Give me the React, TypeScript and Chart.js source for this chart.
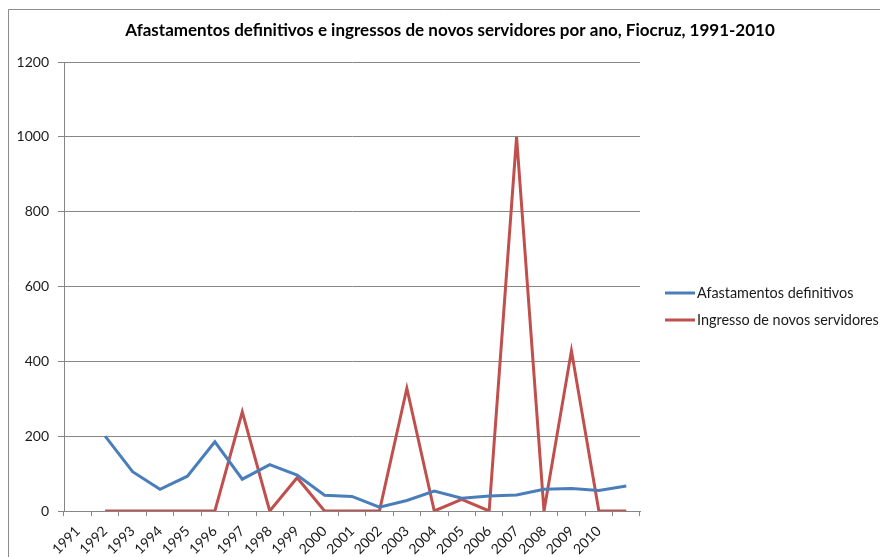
import React, { useEffect, useRef } from "react";
import { Chart, registerables } from "chart.js";

Chart.register(...registerables);

const TITLE = "Afastamentos definitivos e ingressos de novos servidores por ano, Fiocruz, 1991-2010";
const years = ["1991", "1992", "1993", "1994", "1995", "1996", "1997", "1998", "1999", "2000", "2001", "2002", "2003", "2004", "2005", "2006", "2007", "2008", "2009", "2010", ""];
const afastamentos = [null, 200, 105, 58, 93, 185, 85, 124, 96, 42, 39, 10, 28, 53, 34, 40, 43, 58, 60, 55, 67];
const ingressos = [null, 0, 0, 0, 0, 0, 265, 0, 89, 0, 0, 0, 328, 0, 31, 0, 1000, 0, 428, 0, 0];
const seriesNames = ["Afastamentos definitivos", "Ingresso de novos servidores"];
const seriesColors = ["#4A7EBB", "#C0504D"];
const yTicks = { min: 0, max: 1200, step: 200 };

const FONT = "Lato, 'Open Sans', sans-serif";

const decor = {
  id: "decor",
  afterDraw(chart: any) {
    const ctx = chart.ctx;
    ctx.save();
    // frame
    ctx.strokeStyle = "#8c8c8c";
    ctx.lineWidth = 1;
    ctx.beginPath();
    ctx.moveTo(8.5, 557);
    ctx.lineTo(8.5, 9.5);
    ctx.lineTo(880, 9.5);
    ctx.stroke();
    // title
    ctx.fillStyle = "#000";
    ctx.font = `bold 17px ${FONT}`;
    ctx.textAlign = "center";
    ctx.textBaseline = "middle";
    ctx.fillText(TITLE, 450, 31);
    // legend
    ctx.font = `14.4px ${FONT}`;
    ctx.textAlign = "left";
    chart.data.datasets.forEach((ds: any, i: number) => {
      const y = 293 + i * 27;
      ctx.strokeStyle = ds.borderColor;
      ctx.lineWidth = 3;
      ctx.beginPath();
      ctx.moveTo(665, y);
      ctx.lineTo(695, y);
      ctx.stroke();
      ctx.fillStyle = "#1a1a1a";
      ctx.fillText(ds.label, 697, y);
    });
    ctx.restore();
  },
};

export default function App() {
  const ref = useRef<HTMLCanvasElement>(null);
  useEffect(() => {
    const chart = new Chart(ref.current!, {
      type: "line",
      data: {
        labels: years,
        datasets: [
          { label: seriesNames[0], data: afastamentos, borderColor: seriesColors[0], backgroundColor: seriesColors[0], borderWidth: 3, pointRadius: 0, tension: 0, spanGaps: false },
          { label: seriesNames[1], data: ingressos, borderColor: seriesColors[1], backgroundColor: seriesColors[1], borderWidth: 3, pointRadius: 0, tension: 0, spanGaps: false },
        ],
      },
      options: {
        animation: false,
        responsive: true,
        maintainAspectRatio: false,
        layout: { padding: { left: 0, top: 62, right: 240, bottom: 0 } },
        plugins: { legend: { display: false }, title: { display: false }, tooltip: { enabled: false } },
        scales: {
          x: {
            offset: true,
            grid: { offset: true, drawOnChartArea: false, drawTicks: true, tickLength: 5, color: "#868686" },
            border: { color: "#868686", width: 1 },
            ticks: { autoSkip: false, minRotation: 45, maxRotation: 45, color: "#1a1a1a", font: { family: FONT, size: 14 }, padding: 7 },
            afterFit: (s: any) => { s.height = 46; },
          },
          y: {
            min: yTicks.min,
            max: yTicks.max,
            grid: { color: "#868686", tickLength: 6, drawTicks: true },
            border: { color: "#868686", width: 1 },
            ticks: { stepSize: yTicks.step, color: "#1a1a1a", font: { family: FONT, size: 14 }, padding: 9, callback: (v: any) => String(v) },
            afterFit: (s: any) => { s.width = 64; },
          },
        },
      },
      plugins: [decor],
    });
    return () => chart.destroy();
  }, []);
  return (
    <div style={{ position: "absolute", left: 0, top: 0, width: 880, height: 557, background: "#fff" }}>
      <canvas ref={ref} />
    </div>
  );
}
